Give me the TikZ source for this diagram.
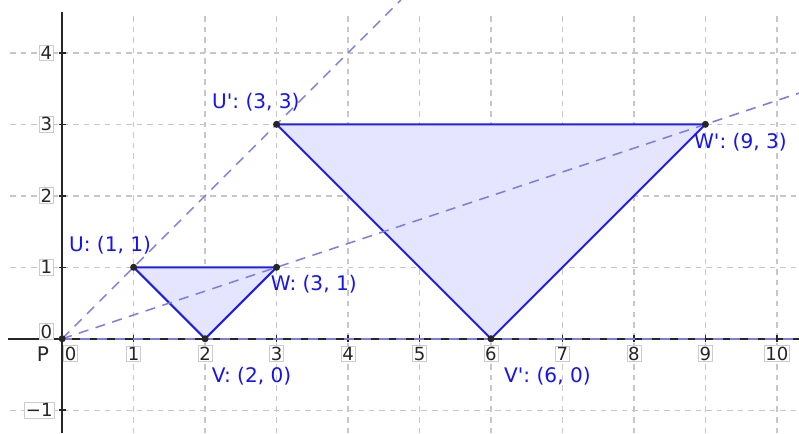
\documentclass[tikz,border=0pt]{standalone}
\usepackage{fontspec}
\setmainfont{DejaVu Sans}
\usepackage{xcolor}
\usetikzlibrary{positioning}
\definecolor{edgeblue}{RGB}{30,30,230}
\definecolor{fillblue}{RGB}{229,229,255}
\definecolor{rayblue}{RGB}{125,125,220}
\definecolor{lblblue}{RGB}{20,20,235}

\begin{document}
\begin{tikzpicture}[
  gridline/.style={black!22, line width=0.55pt, dash pattern=on 2.2pt off 2pt},
  axisline/.style={black!85, line width=0.9pt},
  tri/.style={draw=edgeblue, fill=fillblue, line width=0.8pt, line join=round},
  rayline/.style={rayblue, line width=0.6pt, dash pattern=on 4pt off 3pt},
  vdot/.style={circle, fill=black!85, inner sep=0pt, minimum size=2.8pt},
  ptlbl/.style={text=lblblue, font=\fontsize{8}{9}\selectfont},
  ticklbl/.style={fill=white, draw=black!20, line width=0.3pt, inner sep=0.5pt,
    text=black!85, font=\fontsize{7.2}{8}\selectfont}
]
  \useasboundingbox (-0.87,-1.32) rectangle (10.31,4.74);
  % Grid
  \foreach \x in {1,...,10}
    \draw[gridline] (\x,-1.32) -- (\x,4.57);
  \foreach \y in {-1,1,2,3,4}
    \draw[gridline] (-0.73,\y) -- (10.31,\y);
  % Axes with ticks
  \draw[axisline] (-0.76,0) -- (10.31,0);
  \draw[axisline] (0,-1.32) -- (0,4.57);
  \foreach \x in {1,...,10}
    \draw[axisline, line width=0.6pt] (\x,-0.05) -- (\x,0.05);
  \foreach \y in {-1,1,2,3,4}
    \draw[axisline, line width=0.6pt] (-0.05,\y) -- (0.05,\y);
  % Tick labels
  \foreach \x in {1,...,10}
    \node[ticklbl] (xt\x) at (\x,-0.21) {\x};
  \node[ticklbl] (xt0) at (0.12,-0.21) {0};
  \foreach \y in {1,...,4}
    \node[ticklbl] (yt\y) at (-0.22,\y) {\y};
  \node[ticklbl] (yt0) at (-0.22,0.1) {0};
  \node[ticklbl] (ytm) at (-0.32,-1) {−1};
  % Vertices
  \coordinate (P) at (0,0);
  \coordinate (U) at (1,1);
  \coordinate (V) at (2,0);
  \coordinate (W) at (3,1);
  \coordinate (Up) at (3,3);
  \coordinate (Vp) at (6,0);
  \coordinate (Wp) at (9,3);
  % Triangles
  \filldraw[tri] (U) -- (V) -- (W) -- cycle;
  \filldraw[tri] (Up) -- (Vp) -- (Wp) -- cycle;
  % Rays from the centre P
  \coordinate (endU) at (4.74,4.74);
  \coordinate (endV) at (10.31,0);
  \coordinate (endW) at (10.31,3.437);
  \draw[rayline] (P) -- (endU);
  \draw[rayline] (P) -- (endV);
  \draw[rayline] (P) -- (endW);
  % Points
  \foreach \p in {P,U,V,W,Up,Vp,Wp}
    \node[vdot] (dot\p) at (\p) {};
  % Labels
  \node[text=black!85, font=\fontsize{8}{9}\selectfont] (Plbl) at (-0.27,-0.21) {P};
  \node[ptlbl] (Ulbl) at (0.67,1.31) {U: (1, 1)};
  \node[ptlbl] (Vlbl) at (2.65,-0.53) {V: (2, 0)};
  \node[ptlbl] (Wlbl) at (3.52,0.77) {W: (3, 1)};
  \node[ptlbl] (Uplbl) at (2.71,3.31) {U\textquotesingle: (3, 3)};
  \node[ptlbl] (Vplbl) at (6.79,-0.52) {V\textquotesingle: (6, 0)};
  \node[ptlbl] (Wplbl) at (9.49,2.75) {W\textquotesingle: (9, 3)};
\end{tikzpicture}
\end{document}
